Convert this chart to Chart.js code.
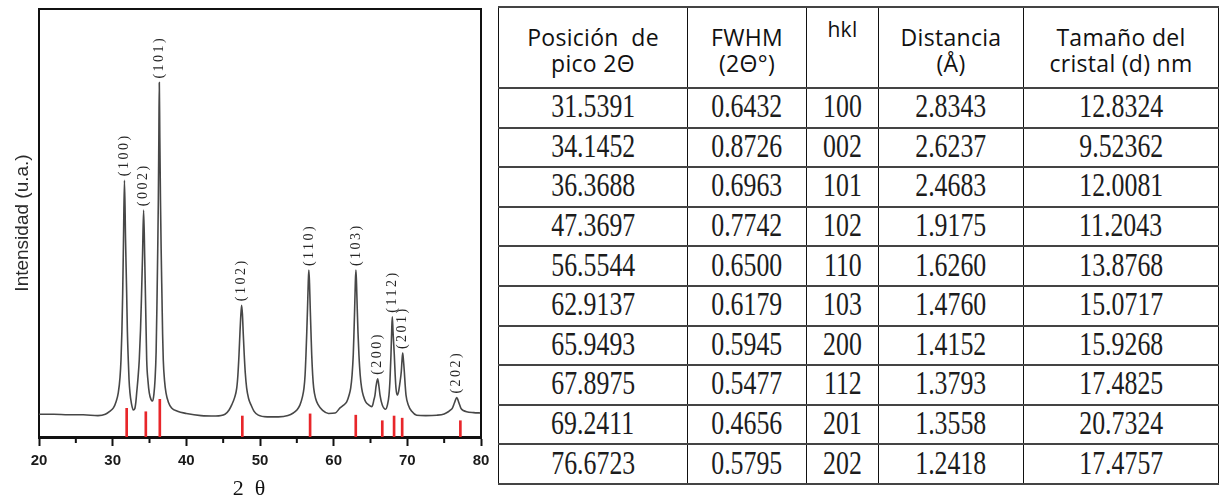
<!DOCTYPE html>
<html>
<head>
<meta charset="utf-8">
<script src="https://cdn.jsdelivr.net/npm/chart.js@4.4.1/dist/chart.umd.min.js"></script>
<style>
  body { margin: 0; background: #fff; width: 1225px; height: 499px; overflow: hidden; position: relative; }
  #chart_box { position: absolute; left: 0; top: 0; width: 497px; height: 499px; }
  #xrd_table { position: absolute; left: 498px; top: 6px; border-collapse: collapse; table-layout: fixed; width: 720px; }
  #xrd_table th, #xrd_table td {
    border-top: 2px solid #444; border-bottom: 2px solid #444;
    border-left: 1.5px solid #111; border-right: 1.5px solid #111;
    padding: 0; text-align: center; overflow: visible; white-space: nowrap;
  }
  #xrd_table th {
    height: 63px; vertical-align: top; padding-top: 16px;
    font-family: "Open Sans", "Noto Sans", sans-serif; font-weight: normal;
    font-size: 23px; line-height: 26px; color: #111; letter-spacing: 0.3px;
  }
  #xrd_table th.hkl { padding-top: 8px; font-size: 21px; }
  #xrd_table td { height: 37.6px; font-family: "Liberation Serif", serif; font-size: 34px; line-height: 33px; color: #1c1c1c; }
  #xrd_table td span { display: inline-block; transform: scaleX(0.76); position: relative; top: -2px; }
</style>
</head>
<body>
<div id="chart_box"><canvas id="xrd_chart" width="497" height="499"></canvas></div>
<table id="xrd_table">
  <colgroup><col style="width:189px"><col style="width:119px"><col style="width:72px"><col style="width:145px"><col style="width:195px"></colgroup>
  <thead><tr id="table_head"></tr></thead>
  <tbody id="table_body"></tbody>
</table>
<script>
// diffractogram (2theta, intensity in a.u.)
const theta = [
  20, 22, 24, 26, 28, 29, 29.6, 30.1, 30.45, 30.76, 31.0, 31.13, 31.25, 31.36, 31.47, 31.6,
  31.75, 31.9, 32.0, 32.12, 32.22, 32.35, 32.55, 32.8,
  33.0, 33.15, 33.26, 33.45, 33.61, 33.78, 33.9, 34.05, 34.2, 34.35, 34.46, 34.55, 34.62, 34.8, 34.97, 35.2, 35.43,
  35.6, 35.75, 35.9, 36.02, 36.12, 36.2, 36.27, 36.33, 36.4, 36.49, 36.58, 36.7, 36.78, 36.87, 37.05, 37.24, 37.55, 38.0, 38.8,
  40, 42, 44, 45.25,
  45.8, 46.16, 46.55, 46.84, 47.0, 47.15, 47.27, 47.4, 47.51, 47.62, 47.73, 47.86, 48.0, 48.19, 48.45, 48.78, 49.2, 49.77,
  51, 52.5, 53.8,
  54.52, 55.0, 55.43, 55.75, 55.97, 56.12, 56.24, 56.35, 56.45, 56.55, 56.63, 56.72, 56.82, 56.92, 57.02, 57.15, 57.29, 57.55, 57.91, 58.5, 59.3, 60.2,
  60.86, 61.3, 61.77, 62.1, 62.31, 62.5, 62.66, 62.76, 62.85, 62.94, 63.02, 63.1, 63.2, 63.3, 63.43, 63.6, 63.8, 64.05, 64.35, 64.75, 65.16,
  65.3, 65.45, 65.61, 65.75, 65.97, 66.15, 66.29, 66.6, 67.06,
  67.3, 67.51, 67.65, 67.78, 67.88, 67.96, 68.06, 68.23, 68.35, 68.46, 68.62,
  68.8, 68.98, 69.18, 69.28, 69.37, 69.47, 69.59, 69.7, 69.82, 70.13, 70.6, 71.27,
  72.5, 74.0, 75.0, 75.56, 75.85, 76.1, 76.4, 76.7, 77.0, 77.28, 77.6, 78.05, 79.0, 80
];
const intensity = [
  5.3, 5.3, 5.2, 5.2, 5.0, 5.3, 6.0, 6.8, 8.2, 10.3, 14.0, 18.0, 24.5, 33.6, 46.0, 60.0,
  46.0, 33.6, 24.5, 18.0, 13.5, 10.3, 7.8, 6.3,
  6.6, 8.2, 10.3, 14.0, 18.0, 25.0, 32.0, 42.0, 53.0, 42.0, 32.0, 24.0, 18.0, 13.0, 10.3, 8.8, 8.4,
  10.0, 13.3, 20.0, 32.0, 44.0, 55.4, 70.0, 82.8, 70.0, 55.4, 44.0, 32.0, 24.0, 18.0, 13.0, 10.3, 8.2, 6.8, 6.0,
  5.5, 5.0, 4.9, 5.3,
  6.3, 7.5, 9.2, 11.4, 14.5, 19.2, 24.0, 28.5, 30.8, 28.5, 24.0, 19.2, 15.0, 11.4, 9.0, 7.5, 6.0, 5.1,
  4.7, 4.7, 5.0,
  5.6, 6.3, 7.5, 9.3, 11.4, 14.5, 19.2, 24.5, 30.0, 36.0, 39.0, 36.0, 30.0, 24.5, 19.2, 14.5, 11.4, 9.0, 7.5, 6.2, 5.5, 5.6,
  6.8, 7.4, 8.2, 9.8, 11.4, 14.5, 19.2, 24.5, 30.0, 36.0, 39.0, 36.0, 30.0, 24.5, 19.2, 14.5, 11.4, 9.5, 8.2, 7.5, 7.1,
  7.5, 8.6, 9.8, 11.8, 13.6, 11.8, 9.8, 7.5, 6.5,
  7.5, 9.8, 13.5, 19.2, 25.0, 28.1, 24.5, 19.2, 14.5, 11.4, 9.8,
  10.5, 12.5, 15.3, 18.0, 19.6, 18.0, 15.3, 12.3, 9.8, 7.5, 6.0, 5.1,
  5.0, 5.1, 5.4, 5.9, 6.3, 6.7, 8.0, 9.2, 8.0, 6.7, 6.2, 5.9, 5.7, 5.6
];

// reference pattern sticks (red)
const stickPos = [31.9, 34.5, 36.4, 47.6, 56.8, 63.0, 66.6, 68.2, 69.3, 77.2];
const stickHeight = [6.7, 5.9, 8.8, 4.9, 5.4, 5.1, 3.8, 4.9, 4.4, 3.8];

// peak labels
const peakLabels = ['(100)', '(002)', '(101)', '(102)', '(110)', '(103)', '(200)', '(112)', '(201)', '(202)'];
const peakPos = [31.65, 34.2, 36.33, 47.51, 56.63, 63.02, 65.97, 67.96, 69.37, 76.7];
const peakTop = [60.0, 53.0, 82.8, 30.8, 39.0, 39.0, 13.6, 28.1, 19.6, 9.2];

const minorTicks = [25, 35, 45, 55, 65, 75];

// table values
const tableHeads = ['Posición&nbsp; de<br>pico 2Θ', 'FWHM<br>(2Θ°)', 'hkl', 'Distancia<br>(Å)', 'Tamaño del<br>cristal (d) nm'];
const peakPosition = ['31.5391', '34.1452', '36.3688', '47.3697', '56.5544', '62.9137', '65.9493', '67.8975', '69.2411', '76.6723'];
const fwhm = ['0.6432', '0.8726', '0.6963', '0.7742', '0.6500', '0.6179', '0.5945', '0.5477', '0.4656', '0.5795'];
const hkl = ['100', '002', '101', '102', '110', '103', '200', '112', '201', '202'];
const dSpacing = ['2.8343', '2.6237', '2.4683', '1.9175', '1.6260', '1.4760', '1.4152', '1.3793', '1.3558', '1.2418'];
const crystalSize = ['12.8324', '9.52362', '12.0081', '11.2043', '13.8768', '15.0717', '15.9268', '17.4825', '20.7324', '17.4757'];

function buildTable() {
    var head = document.getElementById('table_head');
    tableHeads.forEach(function (h, i) {
        var th = document.createElement('th');
        if (i === 2) th.className = 'hkl';
        th.innerHTML = h;
        head.appendChild(th);
    });
    var body = document.getElementById('table_body');
    peakPosition.forEach(function (p, i) {
        var tr = document.createElement('tr');
        [p, fwhm[i], hkl[i], dSpacing[i], crystalSize[i]].forEach(function (v) {
            var td = document.createElement('td');
            var s = document.createElement('span');
            s.textContent = v;
            td.appendChild(s);
            tr.appendChild(td);
        });
        body.appendChild(tr);
    });
}

const xrdDecor = {
    id: 'xrdDecor',
    afterDatasetsDraw(chart) {
        const ctx = chart.ctx, a = chart.chartArea, x = chart.scales.x, y = chart.scales.y;
        ctx.save();
        // top and right frame
        ctx.strokeStyle = '#111';
        ctx.lineWidth = 2;
        ctx.beginPath();
        ctx.moveTo(a.left, a.top);
        ctx.lineTo(a.right, a.top);
        ctx.lineTo(a.right, a.bottom);
        ctx.stroke();
        // minor ticks
        minorTicks.forEach(function (v) {
            var px = x.getPixelForValue(v);
            ctx.beginPath();
            ctx.moveTo(px, a.bottom);
            ctx.lineTo(px, a.bottom + 6);
            ctx.stroke();
        });
        // peak labels, rotated
        ctx.fillStyle = '#262626';
        ctx.font = '14px "Liberation Serif"';
        ctx.letterSpacing = '2.5px';
        ctx.textAlign = 'left';
        ctx.textBaseline = 'middle';
        peakLabels.forEach(function (t, i) {
            var px = x.getPixelForValue(peakPos[i]);
            var py = y.getPixelForValue(peakTop[i]) - 4;
            ctx.save();
            ctx.translate(px, py);
            ctx.rotate(-Math.PI / 2);
            ctx.fillText(t, 0, 0);
            ctx.restore();
        });
        ctx.restore();
    }
};

function drawXrdChart() {
    var element = document.getElementById('xrd_chart');
    if (!element) {
        return;
    }
    const config = {
        type: 'line',
        data: {
            datasets: [{
                type: 'line',
                data: theta.map(function (t, i) { return { x: t, y: intensity[i] }; }),
                borderColor: '#474747',
                borderWidth: 1.6,
                pointRadius: 0,
                cubicInterpolationMode: 'monotone',
                order: 1
            }, {
                type: 'bar',
                data: stickPos.map(function (t, i) { return { x: t, y: stickHeight[i] }; }),
                backgroundColor: '#e8262a',
                barThickness: 2,
                order: 2
            }]
        },
        options: {
            responsive: false,
            animation: false,
            devicePixelRatio: 1,
            layout: { padding: { top: 9, right: 16, left: 0, bottom: 0 } },
            plugins: {
                legend: { display: false },
                tooltip: { enabled: false }
            },
            scales: {
                x: {
                    type: 'linear',
                    min: 20,
                    max: 80,
                    offset: false,
                    border: { display: true, color: '#111', width: 3 },
                    grid: { display: true, offset: false, drawOnChartArea: false, drawTicks: true, tickLength: 9, tickWidth: 2, tickColor: '#111' },
                    ticks: {
                        stepSize: 10,
                        padding: 6,
                        maxRotation: 0,
                        color: '#1a1a1a',
                        font: { family: '"Liberation Sans", Arial', size: 15, weight: 'bold' }
                    },
                    title: {
                        display: true,
                        text: '2  θ    ',
                        color: '#111',
                        font: { family: '"Liberation Serif", serif', size: 22 },
                        padding: { top: 0, bottom: -3 }
                    },
                    afterFit: function (s) { s.height = 62; }
                },
                y: {
                    min: 0,
                    max: 100,
                    border: { display: true, color: '#111', width: 2 },
                    grid: { display: false },
                    ticks: { display: false },
                    title: {
                        display: true,
                        text: 'Intensidad (u.a.)',
                        color: '#2a2a2a',
                        font: { family: '"Liberation Sans", Arial', size: 19 },
                        padding: { top: 11, bottom: 0 }
                    },
                    afterFit: function (s) { s.width = 39; }
                }
            }
        },
        plugins: [xrdDecor]
    };
    new Chart(element, config);
}

buildTable();
drawXrdChart();
</script>
</body>
</html>
